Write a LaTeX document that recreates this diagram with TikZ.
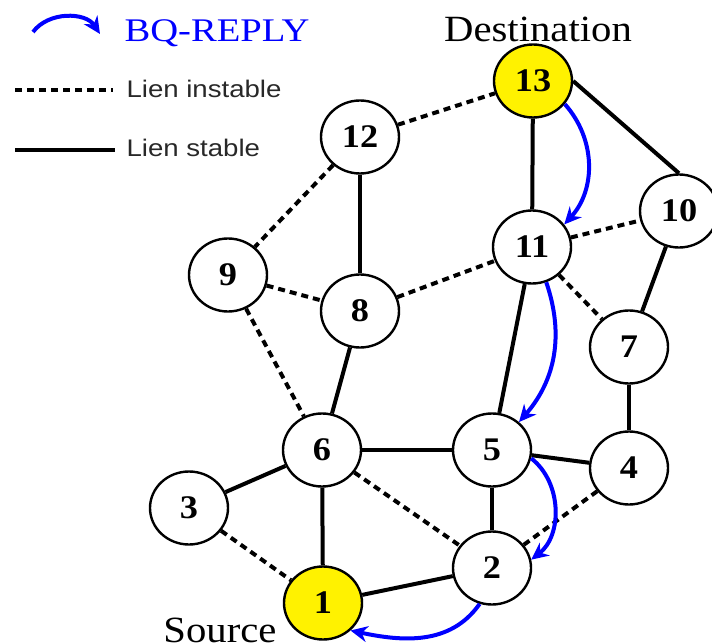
\documentclass[tikz,border=0pt]{standalone}
\usepackage{fontspec}
\setmainfont[FakeStretch=1.1]{Liberation Serif}
\newfontfamily\legendfont[FakeStretch=1.15]{Liberation Sans}
\newfontfamily\replyfont[FakeStretch=1.17]{Liberation Serif}
\usetikzlibrary{shapes.geometric,arrows.meta}
\definecolor{replyblue}{RGB}{0,0,255}
\definecolor{legendgray}{RGB}{40,40,40}
\tikzset{
  station/.style={ellipse,draw,line width=2.4pt,minimum width=78pt,minimum height=73pt,
    inner sep=0pt,font=\fontsize{33}{33}\selectfont\bfseries},
  stable/.style={line width=4pt},
  instable/.style={line width=4pt,dash pattern=on 7pt off 5pt},
  reply/.style={replyblue,line width=4pt,-{Stealth[length=17pt,width=16pt]}},
  legendtext/.style={anchor=west,text=legendgray,font=\legendfont\fontsize{24}{24}\selectfont},
}
\newcommand{\station}[4][white]{%
  \node[station,fill=#1] (n#2) at (#3,#4) {#2};%
}

\begin{document}
\begin{tikzpicture}[x=1pt,y=-1pt]
  \useasboundingbox (0,0) rectangle (712,644);
  %
  \station[yellow]{1}{323}{603}   % source
  \station{2}{492}{568}
  \station{3}{189}{508}
  \station{4}{629}{468}
  \station{5}{492}{450}
  \station{6}{322}{450}
  \station{7}{629}{347}
  \station{8}{360}{311}
  \station{9}{228}{275}
  \station{10}{679}{211}
  \station{11}{532}{247}
  \station{12}{360}{137}
  \station[yellow]{13}{533}{81}   % destination
  \node[font=\fontsize{37}{37}\selectfont] (src) at (220,630) {Source};
  \node[font=\fontsize{37}{37}\selectfont] (dst) at (538,29) {Destination};
  %
  % stable links
  \draw[stable] (n13) -- (n11);
  \draw[stable] (n13.east) -- (n10.north);
  \draw[stable] (n12) -- (n8);
  \draw[stable] (n10) -- (n7);
  \draw[stable] (n11) -- (n5);
  \draw[stable] (n8) -- (n6);
  \draw[stable] (n7) -- (n4);
  \draw[stable] (n6) -- (n5);
  \draw[stable] (n5) -- (n4);
  \draw[stable] (n6) -- (n3);
  \draw[stable] (n6) -- (n1);
  \draw[stable] (n5) -- (n2);
  \draw[stable] (n2) -- (n1);
  % unstable links
  \draw[instable] (n12) -- (n13);
  \draw[instable] (n12) -- (n9);
  \draw[instable] (n9) -- (n8);
  \draw[instable] (n8) -- (n11);
  \draw[instable] (n11) -- (n10);
  \draw[instable] (n11) -- (n7);
  \draw[instable] (n9) -- (n6);
  \draw[instable] (n6) -- (n2);
  \draw[instable] (n4) -- (n2);
  \draw[instable] (n3) -- (n1);
  % route of the reply back to the source
  \draw[reply] (n13.-36) to[bend left=42] (n11.35);
  \draw[reply] (n11.-68) to[bend left=30] (n5.46);
  \draw[reply] (n5.-12) to[bend left=52] (n2.12);
  \draw[reply] (n2.-109) to[out=-125,in=-12] (n1.-45);
  %
  % legend
  \coordinate (ra) at (33,32);
  \coordinate (rb) at (100,34);
  \draw[reply] (ra) to[bend left=55] (rb);
  \node[anchor=west,text=replyblue,font=\replyfont\fontsize{33}{33}\selectfont] (bq) at (121,33) {BQ-REPLY};
  \coordinate (da) at (15,90);
  \coordinate (db) at (113,90);
  \draw[instable] (da) -- (db);
  \node[legendtext] (li) at (123,89) {Lien instable};
  \coordinate (sa) at (15,150);
  \coordinate (sb) at (115,150);
  \draw[stable] (sa) -- (sb);
  \node[legendtext] (ls) at (123,148) {Lien stable};
\end{tikzpicture}
\end{document}
